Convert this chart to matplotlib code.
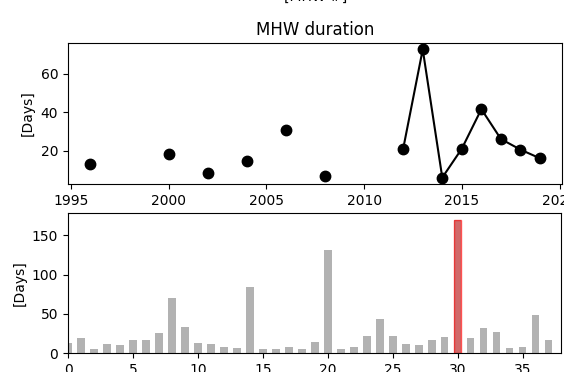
import numpy as np
import matplotlib
matplotlib.use("Agg")
import matplotlib.pyplot as plt

# Annual mean MHW duration (NaN = no event that year)
years = np.arange(1996, 2020)
annual_duration = [13, np.nan, np.nan, np.nan, 18, np.nan, 8.5, np.nan, 14.5, np.nan,
                   30.5, np.nan, 7, np.nan, np.nan, np.nan, 21, 72.5, 6, 21,
                   41.5, 26, 20.5, 16]

# Duration of each MHW event
event_ids = np.arange(38)
event_duration = [13, 19, 6, 12, 10, 17, 17, 26, 70, 34,
                  13, 12, 8, 7, 84, 6, 6, 8, 6, 14,
                  132, 6, 8, 22, 43, 22, 12, 11, 17, 21,
                  170, 20, 32, 27, 7, 8, 49, 17]
highlight_event = 30

fig = plt.figure(figsize=(5.64, 3.72), dpi=100)
ax1 = fig.add_axes([0.1206, 0.5054, 0.8767, 0.379])
ax2 = fig.add_axes([0.1206, 0.0505, 0.8749, 0.3766])

# clipped label from a panel above
x_center = 0.1206 + 0.8767 / 2
fig.text(x_center, 1.008, "[MHW #]", ha="center", va="center", fontsize=10)

ax1.plot(years, annual_duration, "k-o", markersize=7.5, lw=1.5)
ax1.set_title("MHW duration")
ax1.set_ylabel("[Days]")

ax2.bar(event_ids, event_duration, width=0.6, color="gray", alpha=0.6)
ax2.bar(event_ids[highlight_event], event_duration[highlight_event], width=0.6,
        facecolor=(1, 0, 0, 0.4), edgecolor=(1, 0, 0, 0.6), lw=1)
ax2.set_xlim(0, 38)
ax2.set_ylabel("[Days]")

fig.savefig("out.png", dpi=100)
